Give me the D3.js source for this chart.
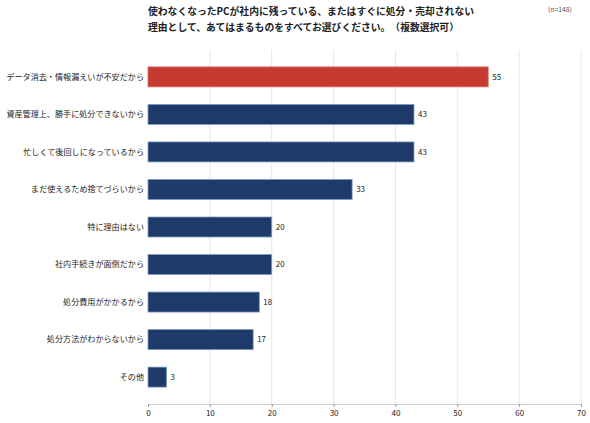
<!DOCTYPE html>
<html><head><meta charset="utf-8">
<script src="https://cdn.jsdelivr.net/npm/d3@7"></script>
<style>
body{margin:0;background:#fff;}
svg{display:block;font-family:"Noto Sans CJK JP","Noto Sans",sans-serif;text-spacing-trim:space-all;}
text{text-spacing-trim:space-all;}
</style></head>
<body>
<svg id="c" width="590" height="423"></svg>
<script>
const titleLines = ["使わなくなったPCが社内に残っている、またはすぐに処分・売却されない","理由として、あてはまるものをすべてお選びください。（複数選択可）"];
const note = "(n=148)";
const categories = ["データ消去・情報漏えいが不安だから","資産管理上、勝手に処分できないから","忙しくて後回しになっているから","まだ使えるため捨てづらいから","特に理由はない","社内手続きが面倒だから","処分費用がかかるから","処分方法がわからないから","その他"];
const values = [55,43,43,33,20,20,18,17,3];
const xTicks = [0,10,20,30,40,50,60,70];
const highlight = [true,false,false,false,false,false,false,false,false];

const svg = d3.select("#c");
const mLeft = 148, mRight = 581, mTop = 50, mBottom = 404;
const x = d3.scaleLinear().domain([0,70]).range([mLeft,mRight]);
const y = d3.scaleBand().domain(categories).range([mTop,mBottom]).paddingInner(0.467).paddingOuter(0.45);

// grid
svg.append("g").selectAll("line").data(xTicks.slice(1)).join("line")
  .attr("x1",d=>x(d)).attr("x2",d=>x(d)).attr("y1",mTop).attr("y2",mBottom)
  .attr("stroke","#e6e6e6").attr("stroke-width",1);

// x axis
const ax = svg.append("g").attr("transform",`translate(0,${mBottom})`)
  .call(d3.axisBottom(x).tickValues(xTicks).tickSize(3).tickPadding(3));
ax.select(".domain").attr("stroke","#cfcfcf").attr("d",`M${mLeft},0.5H${mRight}`);
ax.selectAll(".tick line").attr("stroke","#999");
ax.selectAll(".tick text").attr("font-size","8px").attr("fill","#222").attr("font-family","'Noto Sans CJK JP','Noto Sans',sans-serif");

// bars
svg.append("g").selectAll("rect").data(categories).join("rect")
  .attr("x",x(0)).attr("y",d=>y(d))
  .attr("width",(d,i)=>x(values[i])-x(0)).attr("height",y.bandwidth())
  .attr("fill",(d,i)=>highlight[i]?"#c63a2f":"#1d3a6b")
  .attr("stroke",(d,i)=>highlight[i]?"#d9776e":"#7f9cc0").attr("stroke-width",0.8);

// value labels
svg.append("g").selectAll("text").data(categories).join("text")
  .attr("x",(d,i)=>x(values[i])+4).attr("y",d=>y(d)+y.bandwidth()/2)
  .attr("dy","0.35em").attr("font-size","8px").attr("fill","#222")
  .text((d,i)=>values[i]);

// category labels
svg.append("g").selectAll("text").data(categories).join("text")
  .attr("x",mLeft-4).attr("y",d=>y(d)+y.bandwidth()/2)
  .attr("dy","0.35em").attr("text-anchor","end").attr("font-size","8.1px").attr("fill","#222")
  .text(d=>d);

// title
svg.append("g").selectAll("text").data(titleLines).join("text")
  .attr("x",148).attr("y",(d,i)=>15+i*15.5)
  .attr("font-size","9.8px").attr("font-weight","bold").attr("fill","#222")
  .text(d=>d);
svg.append("text").attr("x",548).attr("y",12).attr("font-size","6.8px").attr("fill","#555").text(note);
</script>
</body></html>
